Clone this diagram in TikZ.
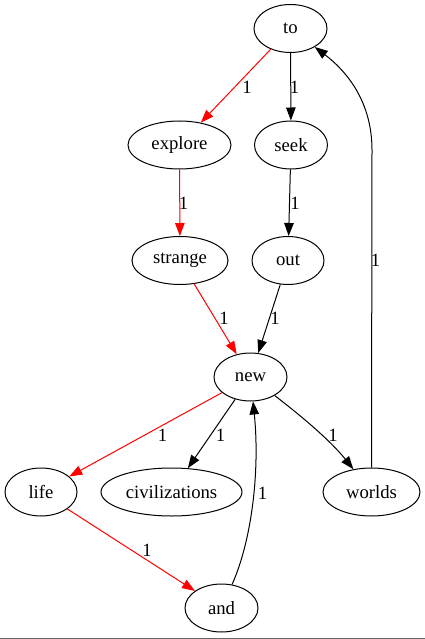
\documentclass[tikz,border=0pt]{standalone}
\usepackage{fontspec}
\setmainfont{Liberation Serif}
\usetikzlibrary{arrows.meta,shapes.geometric}
\begin{document}
\begin{tikzpicture}[x=1pt,y=-1pt,
  font=\fontsize{18.7}{22}\selectfont,
  word/.style={draw, ellipse, line width=1pt, inner sep=0pt, minimum width=73pt, minimum height=48pt},
  lbl/.style={inner sep=0pt, font=\fontsize{18.7}{22}\selectfont},
  conn/.style={line width=1pt, -{Triangle[length=13pt,width=9.5pt]}},
  hot/.style={conn, red}]
\useasboundingbox (0,0) rectangle (425,639);
\fill[white] (0,0) rectangle (425,639);
\draw[line width=1.2pt, black!60] (0,638.4) -- (425,638.4);
% nodes
\node[word] (to) at (290.5,28.5) {to};
\node[word, minimum width=103pt] (explore) at (179.5,145) {explore};
\node[word] (seek) at (291,145) {seek};
\node[word, minimum width=96pt] (strange) at (180,260.5) {strange};
\node[word, minimum width=72pt] (out) at (288,260.5) {out};
\node[word] (new) at (250.5,377) {new};
\node[word, minimum width=72pt] (life) at (41,492) {life};
\node[word, minimum width=141pt] (civ) at (171.5,492) {civilizations};
\node[word, minimum width=97pt] (worlds) at (371.5,492) {worlds};
\node[word] (and) at (221.5,608) {and};
% edges
\draw[hot] (to) -- (explore);
\draw[conn] (to) -- (seek);
\draw[hot] (explore) -- (strange);
\draw[conn] (seek) -- (out);
\draw[hot] (strange) -- (new);
\draw[conn] (out) -- (new);
\draw[hot] (new) -- (life);
\draw[conn] (new) -- (civ);
\draw[conn] (new) .. controls (300,415) and (330,440) .. (worlds);
\draw[hot] (life) -- (and);
\draw[conn] (and) .. controls (252,540) and (260,470) .. (new);
\draw[conn] (worlds.north) -- (372,150) .. controls (372,100) and (345,70) .. (to);
% labels
\node[lbl] (l1) at (247,87) {1};
\node[lbl] (l2) at (294.5,87) {1};
\node[lbl] (l3) at (183.5,203) {1};
\node[lbl] (l4) at (295,203) {1};
\node[lbl] (l5) at (224,318) {1};
\node[lbl] (l6) at (275,318) {1};
\node[lbl] (l7) at (375.5,260) {1};
\node[lbl] (l8) at (162.5,435) {1};
\node[lbl] (l9) at (220.5,435) {1};
\node[lbl] (l10) at (333,435) {1};
\node[lbl] (l11) at (262.5,493) {1};
\node[lbl] (l12) at (147,550) {1};
\end{tikzpicture}
\end{document}
